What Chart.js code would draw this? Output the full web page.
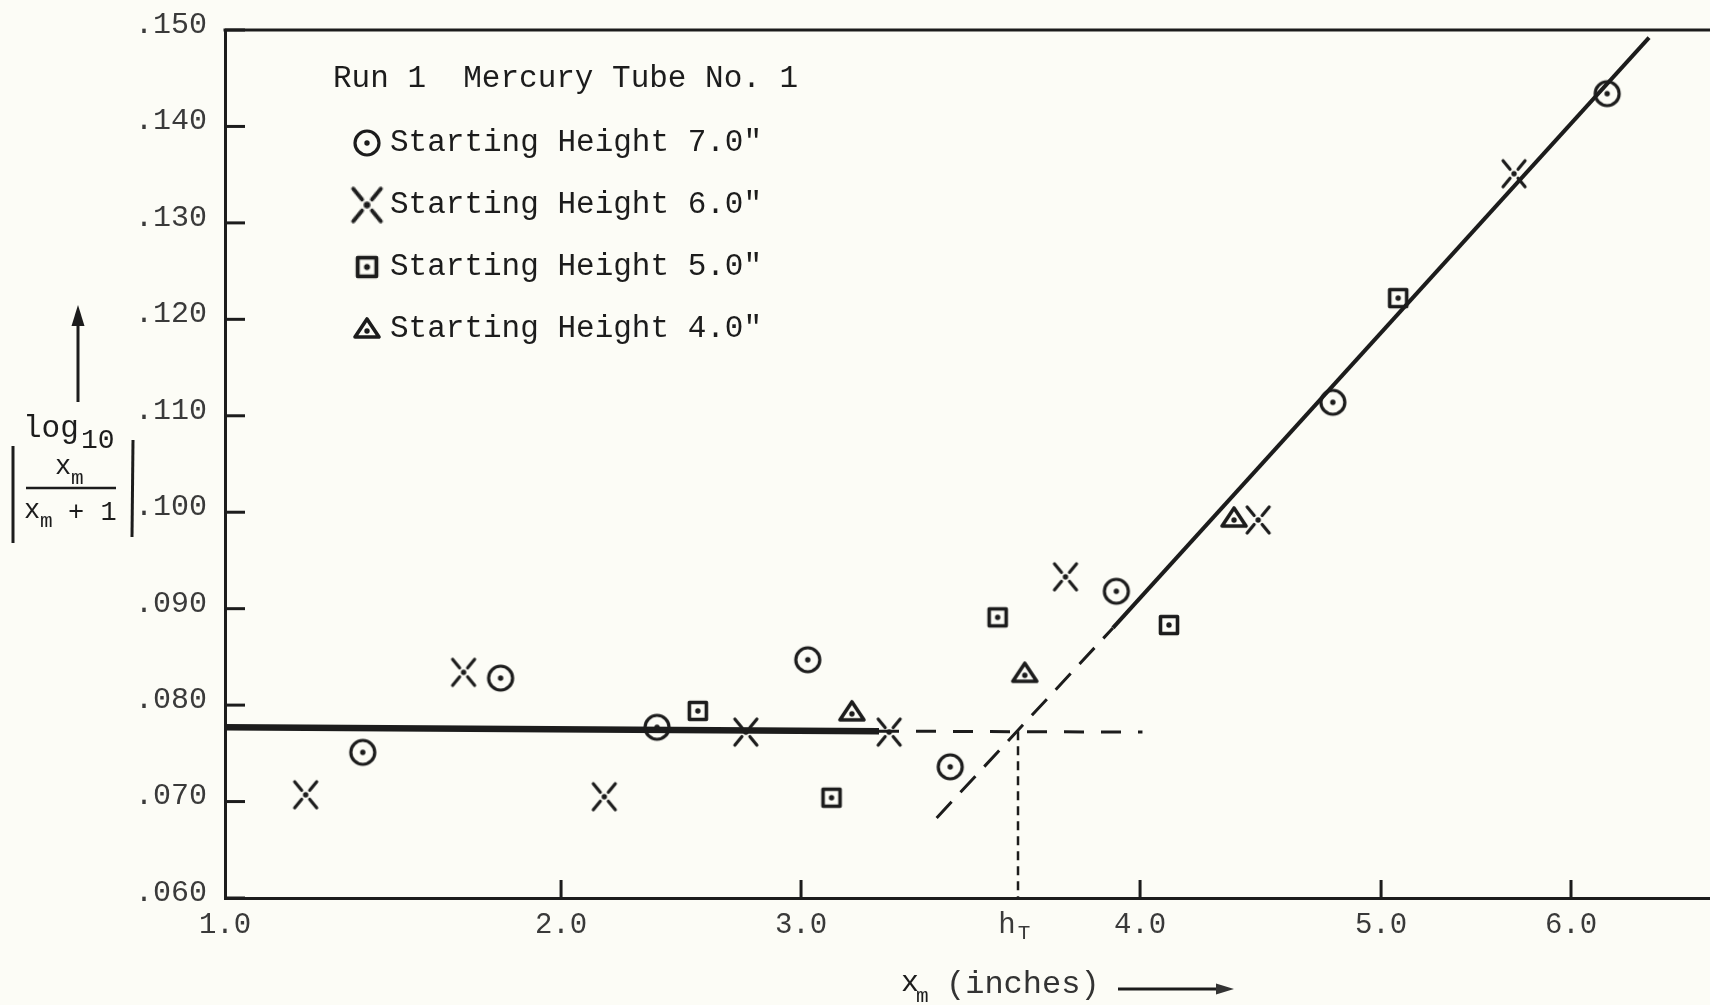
<!DOCTYPE html>
<html>
<head>
<meta charset="utf-8">
<title>Run 1 Mercury Tube No. 1</title>
<script src="https://cdn.jsdelivr.net/npm/chart.js@4.4.1/dist/chart.umd.min.js"></script>
<style>
  html, body { margin: 0; padding: 0; background: #fcfcf6; overflow: hidden; }
  #chart { display: block; }
</style>
</head>
<body>
<canvas id="chart" width="1710" height="1005"></canvas>
<script>
// values (x in inches, y = log10 |xm / xm+1|)
const circleX = [1.41, 1.82, 2.40, 3.02, 3.44, 3.93, 4.80, 6.19];
const circleY = [0.0751, 0.0828, 0.0777, 0.0847, 0.0736, 0.0918, 0.1114, 0.1434];
const crossX = [1.24, 1.71, 2.18, 2.77, 3.26, 3.78, 4.49, 5.70];
const crossY = [0.0707, 0.0834, 0.0705, 0.0772, 0.0772, 0.0933, 0.0992, 0.1351];
const squareX = [2.57, 3.09, 3.58, 4.12, 5.09];
const squareY = [0.0794, 0.0704, 0.0891, 0.0883, 0.1222];
const triangleX = [3.15, 3.66, 4.39];
const triangleY = [0.0793, 0.0833, 0.0994];

// drawn lines
const plateauX = [1.0, 3.23];
const plateauY = [0.0777, 0.0773];
const plateauExtX = [3.23, 4.01];
const plateauExtY = [0.0773, 0.0772];
const slopeX = [3.92, 6.41];
const slopeY = [0.0880, 0.1492];
const slopeExtX = [3.40, 3.92];
const slopeExtY = [0.0683, 0.0880];
const hT = 3.64;
const hTLineY = [0.0773, 0.060];

const legendTitle = 'Run 1  Mercury Tube No. 1';
const seriesLabels = ['Starting Height 7.0"', 'Starting Height 6.0"', 'Starting Height 5.0"', 'Starting Height 4.0"'];

const xTicks = [1, 2, 3, 4, 5, 6];
const xTickLabels = ['1.0', '2.0', '3.0', '4.0', '5.0', '6.0'];
const yTicks = [0.060, 0.070, 0.080, 0.090, 0.100, 0.110, 0.120, 0.130, 0.140, 0.150];
const yTickLabels = ['.060', '.070', '.080', '.090', '.100', '.110', '.120', '.130', '.140', '.150'];

const ink = '#1c1c1c';
const mono = '"Liberation Mono", "DejaVu Sans Mono", monospace';

function pts(xs, ys) {
    return xs.map((x, i) => ({ x: x, y: ys[i] }));
}

// typewriter-ish marker glyphs used as point styles
function makeMarker(kind) {
    const size = 34;
    const c = document.createElement('canvas');
    c.width = size; c.height = size;
    const g = c.getContext('2d');
    const m = size / 2;
    g.strokeStyle = ink; g.fillStyle = ink;
    g.lineWidth = 3.2; g.lineCap = 'round'; g.lineJoin = 'round';
    if (kind === 'circle') {
        g.beginPath(); g.arc(m, m, 12, 0, Math.PI * 2); g.stroke();
    } else if (kind === 'cross') {
        [[-1, -1], [1, -1], [-1, 1], [1, 1]].forEach(d => {
            g.beginPath();
            g.moveTo(m + d[0] * 4, m + d[1] * 4.5);
            g.lineTo(m + d[0] * 11, m + d[1] * 13);
            g.stroke();
        });
    } else if (kind === 'square') {
        g.lineWidth = 3.6;
        g.strokeRect(m - 8.5, m - 8.5, 17, 17);
    } else if (kind === 'triangle') {
        g.lineWidth = 3.6;
        g.beginPath();
        g.moveTo(m, m - 10); g.lineTo(m + 12, m + 8); g.lineTo(m - 12, m + 8);
        g.closePath(); g.stroke();
    }
    g.beginPath();
    g.arc(m, kind === 'triangle' ? m + 2 : m, 2.7, 0, Math.PI * 2);
    g.fill();
    return c;
}

// x axis of the original is hand ruled, so tick spacing is uneven
class WarpedScale extends Chart.LinearScale {
    getPixelForValue(value) {
        if (value === null || value === undefined || isNaN(value)) return NaN;
        const w = this.options.warp;
        let i = 1;
        while (i < w.values.length - 1 && value > w.values[i]) i++;
        const t = (value - w.values[i - 1]) / (w.values[i] - w.values[i - 1]);
        return this.getPixelForDecimal(w.fractions[i - 1] + t * (w.fractions[i] - w.fractions[i - 1]));
    }
    getValueForPixel(pixel) {
        const d = this.getDecimalForPixel(pixel);
        const w = this.options.warp;
        let i = 1;
        while (i < w.fractions.length - 1 && d > w.fractions[i]) i++;
        const t = (d - w.fractions[i - 1]) / (w.fractions[i] - w.fractions[i - 1]);
        return w.values[i - 1] + t * (w.values[i] - w.values[i - 1]);
    }
}
WarpedScale.id = 'warped';
WarpedScale.defaults = {};
Chart.register(WarpedScale);

function line(ctx, x1, y1, x2, y2) {
    ctx.beginPath(); ctx.moveTo(x1, y1); ctx.lineTo(x2, y2); ctx.stroke();
}

const paperPlugin = {
    id: 'paper',
    afterDraw(chart) {
        const ctx = chart.ctx;
        const a = chart.chartArea;
        const xs = chart.scales.x, ys = chart.scales.y;
        ctx.save();
        ctx.strokeStyle = ink; ctx.fillStyle = ink;
        ctx.lineWidth = 3; ctx.lineCap = 'butt';

        // top frame line
        line(ctx, a.left - 1.5, a.top, a.right, a.top);

        // tick marks drawn inward
        yTicks.forEach(v => {
            const py = ys.getPixelForValue(v);
            line(ctx, a.left, py, a.left + 20, py);
        });
        xTicks.slice(1).forEach(v => {
            const px = xs.getPixelForValue(v);
            line(ctx, px, a.bottom, px, a.bottom - 18);
        });

        // h_T label under the crossing point
        const hx = xs.getPixelForValue(hT);
        ctx.fillStyle = '#3a3a3a';
        ctx.textAlign = 'center'; ctx.textBaseline = 'middle';
        ctx.font = '29px ' + mono;
        ctx.fillText('h', hx - 11, a.bottom + 27);
        ctx.font = '21px ' + mono;
        ctx.fillText('T', hx + 6, a.bottom + 35);

        // legend box
        ctx.fillStyle = ink;
        ctx.textAlign = 'left';
        ctx.font = '31px ' + mono;
        ctx.fillText(legendTitle, a.left + 108, a.top + 49);
        chart.data.datasets.slice(0, 4).forEach((ds, i) => {
            const cy = a.top + 113 + i * 62;
            const img = ds.pointStyle;
            const k = ds.legendScale || 1;
            ctx.drawImage(img, a.left + 142 - img.width * k / 2, cy - img.height * k / 2, img.width * k, img.height * k);
            ctx.fillText(ds.label, a.left + 165, cy);
        });

        // y axis title: arrow, log10 |xm / xm + 1|
        ctx.lineWidth = 3;
        line(ctx, 78, 402, 78, 322);
        ctx.beginPath(); ctx.moveTo(78, 305); ctx.lineTo(71.5, 326); ctx.lineTo(84.5, 326); ctx.closePath(); ctx.fill();
        ctx.textBaseline = 'alphabetic';
        ctx.font = '31px ' + mono;
        ctx.fillText('log', 23, 437);
        ctx.font = '28px ' + mono;
        ctx.fillText('10', 81, 448);
        line(ctx, 13, 446, 13, 543);
        line(ctx, 133, 440, 132, 537);
        ctx.font = '27px ' + mono;
        ctx.fillText('x', 55, 474);
        ctx.font = '21px ' + mono;
        ctx.fillText('m', 71, 484);
        ctx.lineWidth = 2.5;
        line(ctx, 26, 488, 116, 488);
        ctx.font = '27px ' + mono;
        ctx.fillText('x', 24, 518);
        ctx.font = '21px ' + mono;
        ctx.fillText('m', 40, 527);
        ctx.font = '27px ' + mono;
        ctx.fillText('+ 1', 68, 520);

        // x axis title
        ctx.font = '30px ' + mono;
        ctx.fillText('x', 901, 991);
        ctx.font = '21px ' + mono;
        ctx.fillText('m', 916, 1002);
        ctx.font = '32px ' + mono;
        ctx.fillStyle = '#333';
        ctx.fillText('(inches)', 946, 993);
        ctx.lineWidth = 3;
        line(ctx, 1118, 989, 1222, 989);
        ctx.beginPath(); ctx.moveTo(1234, 989); ctx.lineTo(1216, 983.5); ctx.lineTo(1216, 994.5); ctx.closePath(); ctx.fill();
        ctx.restore();
    }
};

Chart.defaults.font.family = mono;
Chart.defaults.color = '#363636';

const markerSet = {
    pointRadius: 12, pointHoverRadius: 12, showLine: false
};
const lineSet = {
    showLine: true, pointRadius: 0, pointHoverRadius: 0, fill: false, borderColor: ink
};

new Chart(document.getElementById('chart'), {
    type: 'scatter',
    data: {
        datasets: [
            Object.assign({ label: seriesLabels[0], data: pts(circleX, circleY), pointStyle: makeMarker('circle') }, markerSet),
            Object.assign({ label: seriesLabels[1], data: pts(crossX, crossY), pointStyle: makeMarker('cross'), legendScale: 1.25 }, markerSet),
            Object.assign({ label: seriesLabels[2], data: pts(squareX, squareY), pointStyle: makeMarker('square'), legendScale: 1.1 }, markerSet),
            Object.assign({ label: seriesLabels[3], data: pts(triangleX, triangleY), pointStyle: makeMarker('triangle') }, markerSet),
            Object.assign({ label: 'plateau', data: pts(plateauX, plateauY), borderColor: '#595959', borderWidth: 6.5 }, lineSet),
            Object.assign({ label: 'plateau ext', data: pts(plateauExtX, plateauExtY), borderWidth: 3, borderDash: [20, 17] }, lineSet),
            Object.assign({ label: 'slope', data: pts(slopeX, slopeY), borderWidth: 4 }, lineSet),
            Object.assign({ label: 'slope ext', data: pts(slopeExtX, slopeExtY), borderWidth: 3, borderDash: [22, 13] }, lineSet),
            Object.assign({ label: 'hT', data: pts([hT, hT], hTLineY), borderWidth: 2.5, borderDash: [9, 6] }, lineSet)
        ]
    },
    options: {
        responsive: false,
        devicePixelRatio: 1,
        animation: false,
        events: [],
        layout: { autoPadding: false, padding: { top: 30, right: 0, left: 0, bottom: 0 } },
        plugins: {
            legend: { display: false },
            tooltip: { enabled: false }
        },
        scales: {
            x: {
                type: 'warped',
                min: 1.0,
                max: 6.73,
                warp: {
                    values: [1, 2, 3, 4, 5, 6, 6.73],
                    fractions: [0, 0.2263, 0.3879, 0.6162, 0.7785, 0.9064, 1]
                },
                afterBuildTicks: scale => {
                    scale.ticks = xTicks.concat([hT]).sort((p, q) => p - q).map(v => ({ value: v }));
                },
                afterFit: scale => {
                    scale.height = 107;
                    scale.paddingLeft = 0; scale.paddingRight = 0;
                },
                grid: { display: false, drawTicks: false },
                border: { display: true, color: ink, width: 3 },
                ticks: {
                    autoSkip: false,
                    maxRotation: 0,
                    padding: 10,
                    color: '#3a3a3a',
                    font: { size: 29 },
                    callback: value => {
                        const i = xTicks.indexOf(value);
                        return i >= 0 ? xTickLabels[i] : '';
                    }
                }
            },
            y: {
                type: 'linear',
                min: 0.060,
                max: 0.150,
                afterBuildTicks: scale => {
                    scale.ticks = yTicks.map(v => ({ value: v }));
                },
                afterFit: scale => {
                    scale.width = 225;
                    scale.paddingTop = 0; scale.paddingBottom = 0;
                },
                grid: { display: false, drawTicks: false },
                border: { display: true, color: ink, width: 3 },
                ticks: {
                    padding: 18,
                    labelOffset: -5,
                    color: '#3a3a3a',
                    font: { size: 30 },
                    callback: (value, index) => yTickLabels[index]
                }
            }
        }
    },
    plugins: [paperPlugin]
});
</script>
</body>
</html>
